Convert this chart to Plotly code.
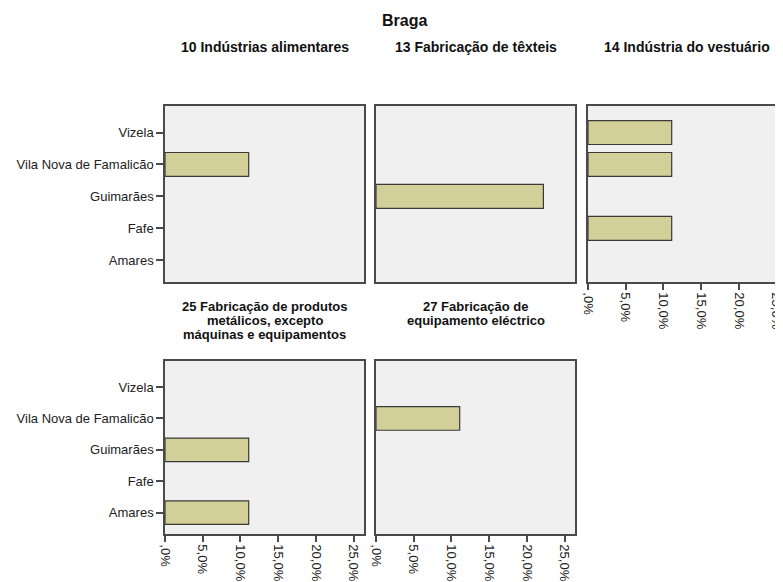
import plotly.graph_objects as go

# page body has an 8px margin: draw a figure 8px smaller and shift all positions
OFF = 8
W, H = 783 - OFF, 582 - OFF

# ---- data ----
categories = ["Amares", "Fafe", "Guimarães", "Vila Nova de Famalicão", "Vizela"]
panel_titles = [
    "10 Indústrias alimentares",
    "13 Fabricação de têxteis",
    "14 Indústria do vestuário",
    "25 Fabricação de produtos<br>metálicos, excepto<br>máquinas e equipamentos",
    "27 Fabricação de<br>equipamento eléctrico",
]
# percentage values per category (Amares, Fafe, Guimarães, Vila Nova de Famalicão, Vizela)
vals_10 = [None, None, None, 11.1, None]
vals_13 = [None, None, 22.2, None, None]
vals_14 = [None, 11.1, None, 11.1, 11.1]
vals_25 = [11.1, None, 11.1, None, None]
vals_27 = [None, None, None, 11.1, None]
panel_values = [vals_10, vals_13, vals_14, vals_25, vals_27]
tick_vals = [0, 5, 10, 15, 20, 25]
tick_text = [",0%", "5,0%", "10,0%", "15,0%", "20,0%", "25,0%"]
main_title = "Braga"

# ---- layout geometry (pixels in the 783x582 window) ----
px_per_pct = 7.54
col_px = [(165, 364), (376, 575), (588, 783)]
row_px = [(106, 282), (361, 534)]
panels = [(0, 0), (0, 1), (0, 2), (1, 0), (1, 1)]

def xd(a, b):
    return [(a - OFF) / W, (b - OFF) / W]

def yd(top, bot):
    return [1 - (bot - OFF) / H, 1 - (top - OFF) / H]

def xp(v):
    return (v - OFF) / W

def yp(v):
    return 1 - (v - OFF) / H

FONT = "Liberation Sans, Arial, sans-serif"
LINE = "#4a4a4a"
BAR = "#D3CF98"
BG = "#F0F0F0"

fig = go.Figure()
layout = dict(
    width=W, height=H, margin=dict(l=0, r=0, t=0, b=0, autoexpand=False),
    paper_bgcolor="white", plot_bgcolor=BG, showlegend=False,
    font=dict(family=FONT, size=13, color="#222"),
)

for i, ((r, c), vals) in enumerate(zip(panels, panel_values)):
    n = i + 1
    xa = "x" if n == 1 else f"x{n}"
    ya = "y" if n == 1 else f"y{n}"
    fig.add_trace(go.Bar(
        x=vals, y=categories, orientation="h", xaxis=xa, yaxis=ya,
        width=0.75, marker=dict(color=BAR, line=dict(color="#3a3a3a", width=1.2)),
        hoverinfo="skip",
    ))
    x0, x1 = col_px[c]
    y0, y1 = row_px[r]
    xrange = [0, (x1 - x0) / px_per_pct]
    show_xticks = (r == 1) or (c == 2)
    show_yticks = (c == 0)
    xkey = "xaxis" if n == 1 else f"xaxis{n}"
    ykey = "yaxis" if n == 1 else f"yaxis{n}"
    layout[xkey] = dict(
        domain=xd(x0, x1), anchor=ya, range=xrange, showgrid=False, zeroline=False,
        automargin=False, ticklabeloverflow="allow",
        showline=True, linecolor=LINE, linewidth=1.5, mirror=True,
        tickmode="array", tickvals=tick_vals if show_xticks else [],
        ticktext=tick_text if show_xticks else [],
        ticks="outside" if show_xticks else "", ticklen=6, tickcolor=LINE, tickwidth=1.5,
        tickangle=90, tickfont=dict(size=13, color="#222", family=FONT),
        fixedrange=True,
    )
    layout[ykey] = dict(
        domain=yd(y0, y1), anchor=xa, type="category", categoryorder="array",
        categoryarray=categories, range=[-0.68, 4.83], showgrid=False, zeroline=False,
        automargin=False,
        showline=True, linecolor=LINE, linewidth=1.5, mirror=(c != 2),
        showticklabels=show_yticks,
        ticks="outside" if show_yticks else "", ticklen=7, tickcolor=LINE, tickwidth=1.5,
        tickfont=dict(size=13, color="#222", family=FONT),
        fixedrange=True,
    )

annotations = [dict(
    text=f"<b>{main_title}</b>", x=xp(404), y=yp(20), xref="paper", yref="paper",
    xanchor="center", yanchor="middle", showarrow=False,
    font=dict(size=16, family=FONT, color="#111"),
)]
# row 1 titles
for i in range(3):
    x0, x1 = col_px[i]
    if i == 2:
        x1 = 785
    annotations.append(dict(
        text=f"<b>{panel_titles[i]}</b>", x=xp((x0 + x1) / 2), y=yp(47),
        xref="paper", yref="paper", xanchor="center", yanchor="middle", showarrow=False,
        font=dict(size=14, family=FONT, color="#111"),
    ))
# row 2 titles, one annotation per line for tight line spacing
for i in (3, 4):
    c = panels[i][1]
    x0, x1 = col_px[c]
    for k, line in enumerate(panel_titles[i].split("<br>")):
        annotations.append(dict(
            text=f"<b>{line}</b>", x=xp((x0 + x1) / 2), y=yp(306 + 14 * k),
            xref="paper", yref="paper", xanchor="center", yanchor="middle", showarrow=False,
            borderpad=0, font=dict(size=13, family=FONT, color="#111"),
        ))
layout["annotations"] = annotations
fig.update_layout(**layout)
fig.write_html("out.html")
